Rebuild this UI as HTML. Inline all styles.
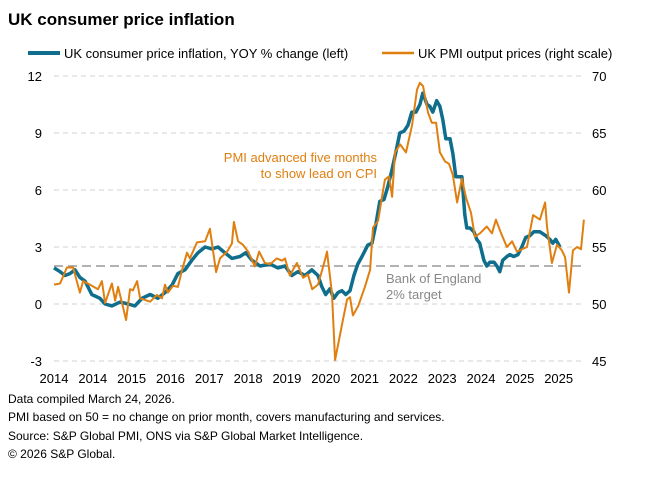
<!DOCTYPE html>
<html><head><meta charset="utf-8"><style>
body{margin:0;background:#fff;font-family:"Liberation Sans",Arial,sans-serif;}
svg{display:block}
</style></head><body>
<svg id="chart" width="663" height="480" xmlns="http://www.w3.org/2000/svg">
<text x="8" y="25" font-size="17" font-weight="bold" fill="#000">UK consumer price inflation</text>
<g>
<line x1="28" y1="53" x2="60" y2="53" stroke="#0f6e8c" stroke-width="4"/>
<text x="64" y="58" font-size="13" fill="#000">UK consumer price inflation, YOY % change (left)</text>
<line x1="382" y1="53" x2="414" y2="53" stroke="#e07f10" stroke-width="2.5"/>
<text x="418" y="58" font-size="13" fill="#000">UK PMI output prices (right scale)</text>
</g>
<g id="grid"></g>
<g id="axes"></g>
<g id="series"></g>
<text x="377" y="162" font-size="13" fill="#e07f10" text-anchor="end">PMI advanced five months</text>
<text x="377" y="178" font-size="13" fill="#e07f10" text-anchor="end">to show lead on CPI</text>
<text x="386" y="283" font-size="13" fill="#888">Bank of England</text>
<text x="386" y="299" font-size="13" fill="#888">2% target</text>
<g font-size="12" fill="#000">
<text x="8" y="403">Data compiled March 24, 2026.</text>
<text x="8" y="421">PMI based on 50 = no change on prior month, covers manufacturing and services.</text>
<text x="8" y="440">Source: S&amp;P Global PMI, ONS via S&amp;P Global Market Intelligence.</text>
<text x="8" y="458">© 2026 S&amp;P Global.</text>
</g>
</svg>
<script>
const leftTicks = [12, 9, 6, 3, 0, -3];
const rightTicks = [70, 65, 60, 55, 50, 45];
const xTickMonths = [0,12,24,36,48,60,72,84,96,108,120,132,144,156];
const xTickLabels = ["2014","2014","2015","2016","2017","2018","2019","2020","2021","2022","2023","2024","2025","2025"];
const targetValue = 2;
const cpiMonths = [0,1.9,3.4,4.9,6.5,8,9.6,11.7,14.2,15.8,17.9,20.4,22.9,25,27.2,29.7,32.1,34.3,36.5,38.3,40.5,42.6,44.5,46.7,48.8,50.7,52.8,55,57.5,59.3,61.2,63.7,66.8,69.2,71.4,73.5,75.4,77.6,79.7,81.6,82.8,84,85.3,86.5,87.8,89,90.2,91.5,92.7,93.9,95.2,97,98.3,99.5,100.7,102,103.2,104.4,105.7,106.9,108.2,109.4,110.6,111.9,113.1,114,115.3,116.2,117.1,118.3,119.3,120.2,121.1,122.4,123.3,124.2,125.1,126.1,127,127.6,128.6,129.8,130.7,131.6,132.9,133.8,134.7,136,136.9,137.8,138.7,140,140.9,142.1,143.4,144.6,145.8,147.1,148.3,150.2,152,153.3,154.2,155.1,156.4];
const cpiValues = [1.9,1.7,1.5,1.6,1.8,1.4,1.2,0.5,0.3,0.0,-0.1,0.1,0.0,-0.1,0.3,0.5,0.3,0.6,1.0,1.6,1.8,2.3,2.7,3.0,2.9,3.0,2.7,2.4,2.5,2.7,2.3,2.0,2.1,1.9,2.0,1.5,1.7,1.5,1.8,1.5,0.9,0.5,0.8,0.3,0.6,0.7,0.5,0.7,1.5,2.1,2.5,3.1,3.2,4.2,5.4,5.5,6.2,7.0,8.0,9.0,9.1,9.4,10.1,10.1,10.5,11.1,10.5,10.4,10.1,10.7,10.4,9.7,8.7,8.7,7.9,6.7,6.7,6.7,4.7,4.0,4.0,3.8,3.4,3.2,2.3,2.0,2.2,2.2,2.0,1.7,2.3,2.5,2.6,2.5,2.6,3.0,3.5,3.6,3.8,3.8,3.6,3.4,3.2,3.4,3.0];
const pmiMonths = [0,1.9,4,5.9,8,9,11.1,13.6,14.8,15.8,17.9,18.9,19.8,22.3,23.5,24.4,25.7,26.6,29.7,31.8,33.4,34.3,35.2,36.8,38.3,39.6,41.1,42,44.2,46.7,48.2,50.1,51.3,53.5,55,55.6,56.9,58.4,60,62.1,63.4,65.2,66.8,68.9,70.5,71.4,72.9,75.1,77,78.5,79.8,81.6,83.8,84.4,85.9,86.9,89.3,90.6,91.5,92.4,94,96.1,97.7,98.6,100.2,101.4,102.3,103.6,104.5,105.4,107,108.8,110.7,112.2,113.1,114.1,115.6,116.8,118.1,119.3,120.9,122.1,123.3,124.6,126.1,127.4,128.9,130.1,131.7,133.8,135.4,136.6,138.2,140,141.6,143.1,146.2,148.1,150.2,151.8,152.4,153.9,155.5,157,158,159.2,160.4,161.7,162.9,163.8];
const pmiValues = [51.7,51.8,53.2,53.2,51.0,52.0,51.7,51.3,52.0,50.1,51.8,50.3,51.5,48.6,51.3,51.2,52.0,50.5,50.2,50.8,50.5,51.7,51.0,51.6,51.5,53.0,54.5,54.0,55.4,55.5,56.6,52.8,54.0,54.6,55.3,57.2,55.5,55.2,54.6,53.3,54.6,53.6,53.5,54.0,53.8,54.0,52.5,53.6,52.3,52.6,51.3,51.7,53.9,54.6,51.0,45.1,48.6,50.4,50.6,49.0,49.8,51.5,53.0,56.7,57.3,59.4,60.9,61.2,59.4,63.3,64.0,63.3,65.7,68.8,69.4,69.1,66.8,65.9,65.9,63.3,62.5,62.3,61.3,58.9,61.0,59.3,58.0,55.9,56.2,56.8,56.2,57.4,56.2,55.0,55.5,54.6,55.0,57.8,57.4,58.9,56.8,53.6,55.2,54.7,54.1,51.0,54.7,55.0,54.8,57.4];

const NS = "http://www.w3.org/2000/svg";
const X0 = 54, MW = 3.235, XR = 584;
const xScale = m => X0 + m * MW;
const yLeft = v => 304 - 19 * v;
const yRight = v => 304 - 11.4 * (v - 50);
function mk(tag, attrs, parent, text) {
  const el = document.createElementNS(NS, tag);
  for (const k in attrs) el.setAttribute(k, attrs[k]);
  if (text !== undefined) el.textContent = text;
  parent.appendChild(el);
  return el;
}
const grid = document.getElementById('grid');
const axes = document.getElementById('axes');
const series = document.getElementById('series');
leftTicks.forEach((t, i) => {
  const y = yLeft(t);
  const g = mk('line', {x1: X0, x2: XR, y1: y, y2: y, stroke: '#d0d0d0', 'stroke-width': 1, 'stroke-dasharray': '5,4'}, grid);
  
  
  const l = mk('text', {x: 42, y: y + 5, 'font-size': 13, 'text-anchor': 'end', fill: '#000'}, axes, String(t));
  
  
});
rightTicks.forEach(t => {
  const l = mk('text', {x: 592, y: yRight(t) + 5, 'font-size': 13, fill: '#000'}, axes, String(t));
  
  
});
xTickMonths.forEach((m, i) => {
  const l = mk('text', {x: xScale(m), y: 383, 'font-size': 13, 'text-anchor': 'middle', fill: '#000'}, axes, xTickLabels[i]);
  
  
});
const tl = mk('line', {x1: X0, x2: XR, y1: yLeft(targetValue), y2: yLeft(targetValue), stroke: '#999', 'stroke-width': 1.5, 'stroke-dasharray': '9,5'}, grid);


const cpiPts = cpiMonths.map((m, i) => xScale(m).toFixed(1) + ',' + yLeft(cpiValues[i]).toFixed(1)).join(' ');
const cpiLine = mk('polyline', {points: cpiPts, fill: 'none', stroke: '#0f6e8c', 'stroke-width': 3.5, 'stroke-linejoin': 'round'}, series);


const pmiPts = pmiMonths.map((m, i) => xScale(m).toFixed(1) + ',' + yRight(pmiValues[i]).toFixed(1)).join(' ');
const pmiLine = mk('polyline', {points: pmiPts, fill: 'none', stroke: '#e07f10', 'stroke-width': 2, 'stroke-linejoin': 'round'}, series);


</script>
</body></html>
